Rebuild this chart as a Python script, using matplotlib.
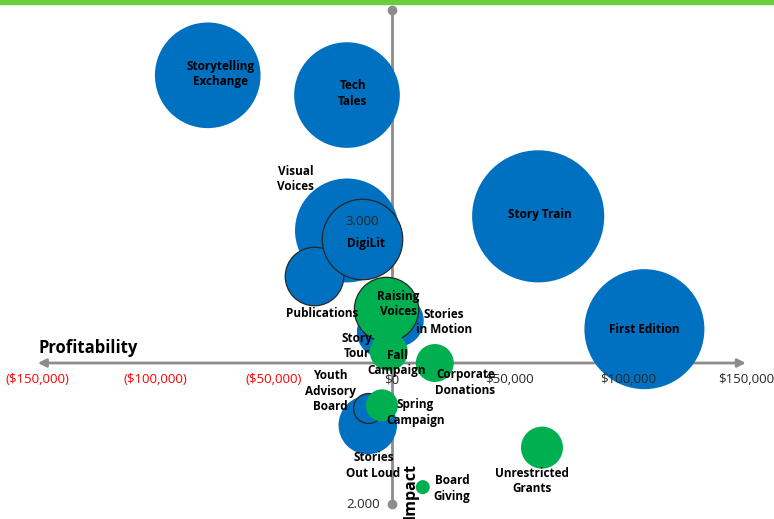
import matplotlib.pyplot as plt
from matplotlib.patches import Rectangle

# Program portfolio: profitability ($) vs impact score, bubble = program size
programs = ['Storytelling\nExchange', 'Tech\nTales', 'Story Train', 'First Edition',
            'Visual\nVoices', 'Publications', 'DigiLit', 'Stories\nin Motion', 'Story\nTour',
            'Stories\nOut Loud', 'Youth\nAdvisory\nBoard',
            'Raising\nVoices', 'Fall\nCampaign', 'Corporate\nDonations', 'Spring\nCampaign',
            'Unrestricted\nGrants', 'Board\nGiving']
profit = [-78000, -19000, 62000, 107000,
          -19000, -33000, -12700, 2500, -3800,
          -10200, -10200,
          -2500, -1300, 18200, -4200,
          63600, 13100]
impact = [3.52, 3.45, 3.02, 2.62,
          2.97, 2.81, 2.94, 2.65, 2.61,
          2.28, 2.34,
          2.69, 2.54, 2.50, 2.35,
          2.20, 2.06]
size = [62, 62, 97, 80,
        60, 19, 36, 15, 15,
        19, 5,
        23, 8, 8, 5.7,
        9.8, 1.1]
kind = ['program'] * 11 + ['fundraising'] * 6
outlined = {'Publications', 'DigiLit', 'Youth\nAdvisory\nBoard', 'Raising\nVoices'}

xticks = [-150000, -100000, -50000, 0, 50000, 100000, 150000]
yticks = [2.0, 3.0]

# label offsets in points relative to bubble centre
label_offset = {
    'Storytelling\nExchange': (9, 1), 'Tech\nTales': (4, 1), 'Story Train': (1, 1),
    'First Edition': (0, 0), 'Visual\nVoices': (-37, 37), 'Publications': (6, -27),
    'DigiLit': (3, -3), 'Stories\nin Motion': (33, -1), 'Story\nTour': (-19, -10),
    'Stories\nOut Loud': (4, -29), 'Youth\nAdvisory\nBoard': (-27, 12),
    'Raising\nVoices': (9, 4), 'Fall\nCampaign': (6, -8), 'Corporate\nDonations': (22, -14),
    'Spring\nCampaign': (24, -5), 'Unrestricted\nGrants': (-7, -24), 'Board\nGiving': (21, -1),
}

blue = '#0070C0'
green = '#00B050'
axis_gray = '#8C8C8C'

fig = plt.figure(figsize=(7.74, 5.19), dpi=100)
ax = fig.add_axes([0, 0, 1, 1])
ax.set_xlim(-166000, 161900)
ax.set_ylim(1.947, 3.787)
ax.axis('off')

fig.patches.append(Rectangle((0, 0.992), 1, 0.008, transform=fig.transFigure,
                             color='#6CCB3F', zorder=0))

# crossing axes
ax.annotate('', xy=(150000, 2.5), xytext=(-150000, 2.5),
            arrowprops=dict(arrowstyle='<|-|>', color=axis_gray, lw=2,
                            mutation_scale=12, shrinkA=0, shrinkB=0), zorder=1)
ax.plot([0, 0], [2.0, 3.75], color=axis_gray, lw=2, zorder=1,
        marker='o', markersize=6, markevery=[0, 1])

for xv in xticks:
    label = f'${abs(xv):,}'
    if xv < 0:
        label = f'({label})'
    ax.text(xv, 2.44, label, ha='center', va='center', fontsize=9.5,
            family='Open Sans', color='#FF0000' if xv < 0 else '#262626', zorder=3.5)
for yv in yticks:
    ax.text(-5200, yv, f'{yv:.3f}', ha='right', va='center', fontsize=9.5,
            family='Open Sans', color='#262626', zorder=2)

ax.text(-149500, 2.555, 'Profitability', ha='left', va='center', fontsize=12,
        fontweight='bold', family='Open Sans', color='black')
ax.text(7800, 2.046, 'Impact', ha='center', va='center', rotation=90, fontsize=11.5,
        fontweight='bold', family='Open Sans', color='black')

# blue programs first, fundraising bubbles on top
for name, xv, yv, sz, k in zip(programs, profit, impact, size, kind):
    edge = '#262626' if name in outlined else 'none'
    ax.scatter(xv, yv, s=sz * 93.3, color=blue if k == 'program' else green,
               edgecolors=edge, linewidths=0.9, zorder=3)

for name, xv, yv in zip(programs, profit, impact):
    ax.annotate(name, (xv, yv), xytext=label_offset[name], textcoords='offset points',
                ha='center', va='center', fontsize=8.5, fontweight='bold',
                family='Open Sans', color='black', linespacing=1.25, zorder=4)

ax.text(-12700, 3.0, '3.000', ha='center', va='center', fontsize=9.5,
        family='Open Sans', color='#262626', zorder=4)

fig.savefig('out.png', dpi=100)
